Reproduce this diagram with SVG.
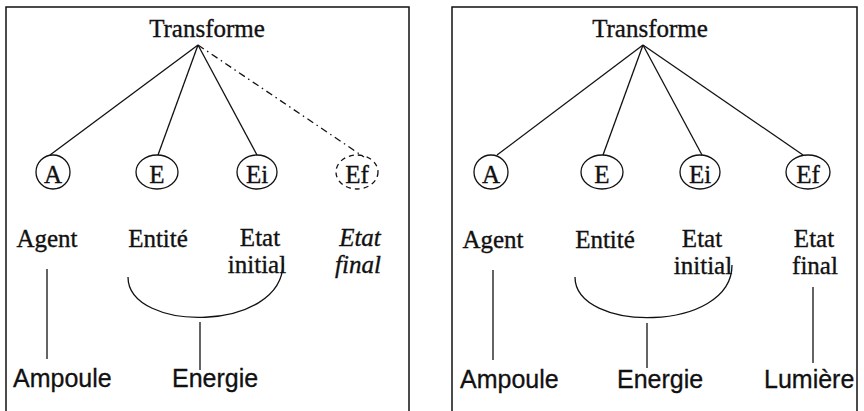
<svg xmlns="http://www.w3.org/2000/svg" width="864" height="411" viewBox="0 0 864 411">
  <style>
    .frame { fill: none; stroke: #111; stroke-width: 1.5; }
    .edge { fill: none; stroke: #111; stroke-width: 1.3; }
    .dash { stroke-dasharray: 7 4 1.5 4; }
    .node { fill: none; stroke: #111; stroke-width: 1.3; }
    .dnode { stroke-dasharray: 5 4; }
    .serif { font-family: "Liberation Serif", "Times New Roman", serif; font-size: 25px; fill: #111; stroke: #111; stroke-width: 0.35; text-anchor: middle; }
    .sans { font-family: "Liberation Sans", Arial, sans-serif; font-size: 25px; fill: #111; stroke: #111; stroke-width: 0.3; }
    .it { font-style: italic; }
  </style>
  <rect width="864" height="411" fill="#fff"/>

  <!-- panel frames, open at the bottom -->
  <path class="frame" d="M6,411 V7 H409 V411"/>
  <path class="frame" d="M452,411 V7 H857 V411"/>

  <!-- left panel -->
  <g id="left-transforme"><text class="serif" x="207" y="37">Transforme</text></g>
  <g id="left-A"><ellipse class="node" cx="53" cy="172" rx="17" ry="17"/><text class="serif" x="53" y="183">A</text></g>
  <g id="left-E"><ellipse class="node" cx="157" cy="172" rx="21" ry="17"/><text class="serif" x="157" y="183">E</text></g>
  <g id="left-Ei"><ellipse class="node" cx="257" cy="172" rx="20" ry="17"/><text class="serif" x="257" y="183">Ei</text></g>
  <g id="left-Ef"><ellipse class="node dnode" cx="357" cy="172" rx="21" ry="17"/><text class="serif" x="357" y="183">Ef</text></g>
  <g id="left-agent"><text class="serif" x="47" y="247">Agent</text></g>
  <g id="left-entite"><text class="serif" x="158" y="247">Entité</text></g>
  <g id="left-etat-initial"><text class="serif" x="260" y="246">Etat</text><text class="serif" x="257" y="273">initial</text></g>
  <g id="left-etat-final"><text class="serif it" x="360" y="246">Etat</text><text class="serif it" x="358" y="273">final</text></g>
  <g id="left-ampoule"><text class="sans" x="13" y="387">Ampoule</text></g>
  <g id="left-energie"><text class="sans" x="172" y="387">Energie</text></g>

  <!-- right panel -->
  <g id="right-transforme"><text class="serif" x="650" y="37">Transforme</text></g>
  <g id="right-A"><ellipse class="node" cx="491" cy="172" rx="17" ry="17"/><text class="serif" x="491" y="183">A</text></g>
  <g id="right-E"><ellipse class="node" cx="602" cy="172" rx="21" ry="17"/><text class="serif" x="602" y="183">E</text></g>
  <g id="right-Ei"><ellipse class="node" cx="700" cy="172" rx="20" ry="17"/><text class="serif" x="700" y="183">Ei</text></g>
  <g id="right-Ef"><ellipse class="node" cx="808" cy="172" rx="22" ry="17"/><text class="serif" x="808" y="183">Ef</text></g>
  <g id="right-agent"><text class="serif" x="493" y="248">Agent</text></g>
  <g id="right-entite"><text class="serif" x="605" y="248">Entité</text></g>
  <g id="right-etat-initial"><text class="serif" x="702" y="247">Etat</text><text class="serif" x="703" y="274">initial</text></g>
  <g id="right-etat-final"><text class="serif" x="814" y="247">Etat</text><text class="serif" x="815" y="274">final</text></g>
  <g id="right-ampoule"><text class="sans" x="460" y="388">Ampoule</text></g>
  <g id="right-energie"><text class="sans" x="617" y="388">Energie</text></g>
  <g id="right-lumiere"><text class="sans" x="764" y="388">Lumière</text></g>

  <!-- connectors -->
  <g id="connectors">
    <line class="edge" x1="198" y1="45" x2="50" y2="155"/>
    <line class="edge" x1="198" y1="45" x2="158" y2="155"/>
    <line class="edge" x1="198" y1="45" x2="257" y2="155"/>
    <line class="edge dash" x1="198" y1="45" x2="364" y2="157"/>
    <line class="edge" x1="47" y1="269" x2="47" y2="359"/>
    <path class="edge" d="M128,277 C128,333 283,333 283,263"/>
    <line class="edge" x1="200" y1="322" x2="200" y2="370"/>

    <line class="edge" x1="643" y1="45" x2="497" y2="155"/>
    <line class="edge" x1="643" y1="45" x2="603" y2="155"/>
    <line class="edge" x1="643" y1="45" x2="702" y2="155"/>
    <line class="edge" x1="643" y1="45" x2="803" y2="155"/>
    <line class="edge" x1="493" y1="270" x2="493" y2="360"/>
    <path class="edge" d="M575,277 C575,333 732,333 732,265"/>
    <line class="edge" x1="647" y1="323" x2="647" y2="368"/>
    <line class="edge" x1="813" y1="287" x2="813" y2="363"/>
  </g>
</svg>
